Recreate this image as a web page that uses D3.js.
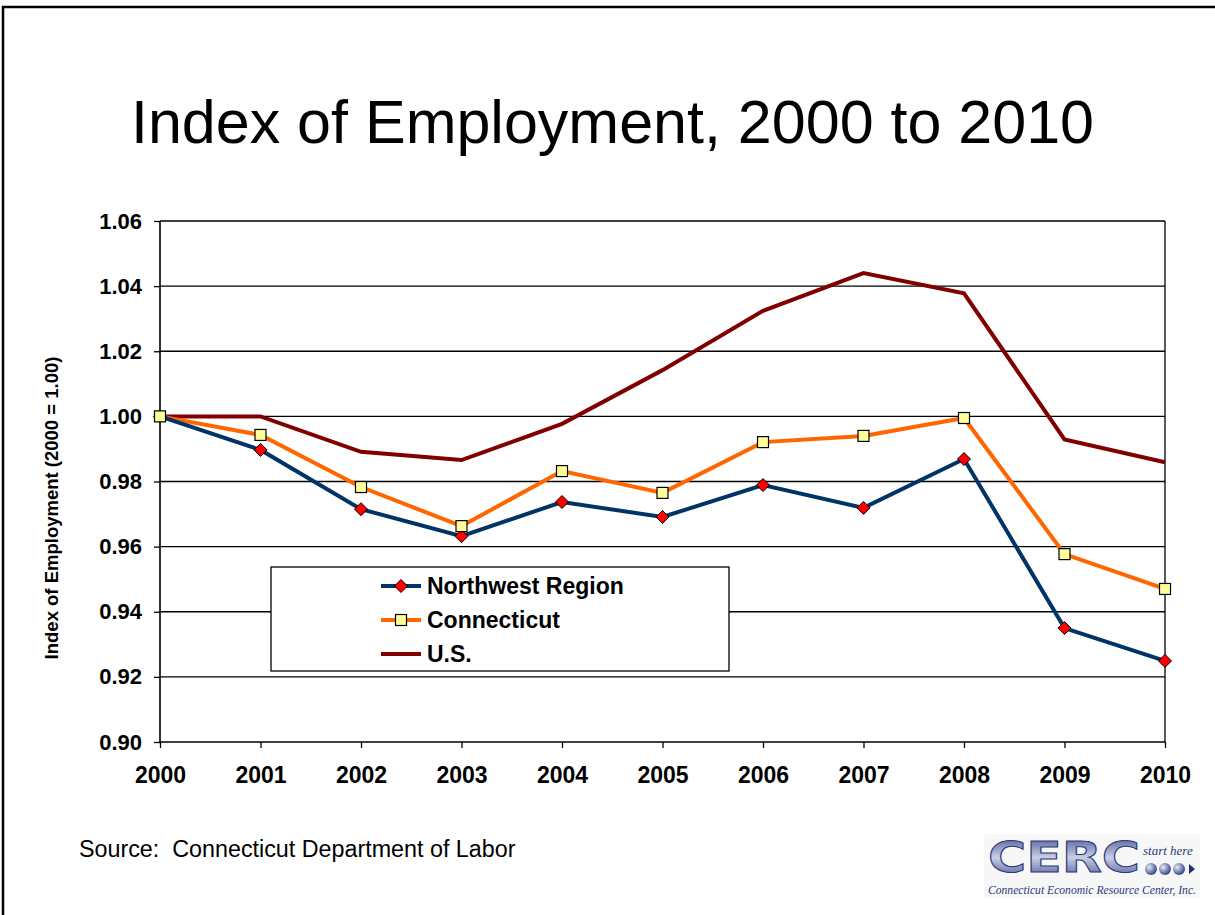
<!DOCTYPE html>
<html>
<head>
<meta charset="utf-8">
<script src="https://cdn.jsdelivr.net/npm/d3@7"></script>
<style>
  html, body { margin: 0; padding: 0; background: #fff; }
  svg { display: block; }
</style>
</head>
<body>
<svg id="chart" width="1215" height="915"></svg>
<script>
// ---- Data ----
const years = ["2000","2001","2002","2003","2004","2005","2006","2007","2008","2009","2010"];
const northwest = [1.000, 0.9897, 0.9715, 0.9632, 0.9737, 0.9691, 0.9789, 0.9719, 0.9869, 0.9350, 0.9249];
const connecticut = [1.000, 0.9943, 0.9783, 0.9663, 0.9832, 0.9765, 0.9921, 0.9940, 0.9995, 0.9577, 0.9470];
const us = [1.000, 1.000, 0.9891, 0.9866, 0.9977, 1.0142, 1.0324, 1.0440, 1.0378, 0.9929, 0.9859];
const yTicks = [0.90, 0.92, 0.94, 0.96, 0.98, 1.00, 1.02, 1.04, 1.06];
const seriesNames = ["Northwest Region", "Connecticut", "U.S."];

const svg = d3.select("#chart");
const FONT = "Liberation Sans, Arial, sans-serif";

// slide border
svg.append("path").attr("d", "M3,915 V7 H1215").attr("fill", "none")
  .attr("stroke", "#000").attr("stroke-width", 2.5);

// title
svg.append("text").attr("x", 612.5).attr("y", 143).attr("text-anchor", "middle")
  .attr("font-family", FONT).attr("font-size", 61)
  .attr("fill", "#000").text("Index of Employment, 2000 to 2010");

const L = 160, R = 1165, T = 221, B = 742;
const x = d3.scalePoint().domain(years).range([L, R]);
const y = d3.scaleLinear().domain([0.90, 1.06]).range([B, T]);

const g = svg.append("g");

// gridlines
g.selectAll("line.grid").data(yTicks.filter(d => d > 0.90)).join("line")
  .attr("class", "grid")
  .attr("x1", L).attr("x2", R).attr("y1", d => y(d)).attr("y2", d => y(d))
  .attr("stroke", "#000").attr("stroke-width", 1.3);
// right border of plot
g.append("line").attr("x1", R).attr("x2", R).attr("y1", T).attr("y2", B)
  .attr("stroke", "#000").attr("stroke-width", 1.3);

// axes
const yAxis = d3.axisLeft(y).tickValues(yTicks).tickFormat(d3.format(".2f")).tickSize(6).tickPadding(12);
const yg = g.append("g").attr("transform", `translate(${L},0)`).call(yAxis);
const xAxis = d3.axisBottom(x).tickSize(6).tickPadding(19);
const xg = g.append("g").attr("transform", `translate(0,${B})`).call(xAxis);
[yg, xg].forEach(a => {
  a.select(".domain").attr("stroke", "#000").attr("stroke-width", 1.6);
  a.selectAll(".tick line").attr("stroke", "#000").attr("stroke-width", 1.3);
  a.selectAll(".tick text").attr("fill", "#000")
    .attr("font-family", FONT).attr("font-weight", "bold");
});
yg.selectAll(".tick text").attr("font-size", 22);
xg.selectAll(".tick text").attr("font-size", 23);
xg.select(".domain").attr("d", `M${L},0H${R}`);
yg.select(".domain").attr("d", `M0,${B}V${T}`);

// y axis title
svg.append("text")
  .attr("transform", `translate(58,508) rotate(-90)`)
  .attr("text-anchor", "middle")
  .attr("font-family", FONT)
  .attr("font-weight", "bold").attr("font-size", 18.5)
  .text("Index of Employment (2000 = 1.00)");

const colors = ["#003366", "#FF6600", "#800000"];
const allSeries = [northwest, connecticut, us];
const line = d3.line().x((d, i) => x(years[i])).y(d => y(d));

[2, 1, 0].forEach(k => {
  g.append("path").datum(allSeries[k]).attr("d", line)
    .attr("fill", "none").attr("stroke", colors[k]).attr("stroke-width", 4)
    .attr("stroke-linejoin", "miter");
});

function diamond(sel, cx, cy, s) {
  sel.append("path")
    .attr("d", `M${cx},${cy - s}L${cx + s},${cy}L${cx},${cy + s}L${cx - s},${cy}Z`)
    .attr("fill", "#FF0000").attr("stroke", "#000").attr("stroke-width", 1);
}
function square(sel, cx, cy, s) {
  sel.append("rect").attr("x", cx - s).attr("y", cy - s).attr("width", 2 * s).attr("height", 2 * s)
    .attr("fill", "#FFFF99").attr("stroke", "#000").attr("stroke-width", 1.2);
}

northwest.forEach((v, i) => diamond(g, x(years[i]), y(v), 6.5));
connecticut.forEach((v, i) => square(g, x(years[i]), y(v), 5.5));

// legend
const lg = svg.append("g");
lg.append("rect").attr("x", 271).attr("y", 567).attr("width", 458).attr("height", 104)
  .attr("fill", "#fff").attr("stroke", "#000").attr("stroke-width", 1.3);
const rowsY = [586, 620, 654];
seriesNames.forEach((name, k) => {
  const ry = rowsY[k];
  lg.append("line").attr("x1", 381).attr("x2", 421).attr("y1", ry).attr("y2", ry)
    .attr("stroke", colors[k]).attr("stroke-width", 4);
  if (k === 0) diamond(lg, 401, ry, 6.5);
  if (k === 1) square(lg, 401, ry, 5.5);
  lg.append("text").attr("x", 427).attr("y", ry + 8)
    .attr("font-family", FONT)
    .attr("font-weight", "bold").attr("font-size", 23).text(name);
});

// source
svg.append("text").attr("x", 79).attr("y", 857)
  .attr("font-family", FONT).attr("font-size", 23.3)
  .style("white-space", "pre").attr("xml:space", "preserve")
  .text("Source:  Connecticut Department of Labor");

// CERC logo (approximation)
const logo = svg.append("g");
const defs = svg.append("defs");
const grad = defs.append("linearGradient").attr("id", "cercGrad").attr("x1", 0).attr("y1", 0).attr("x2", 0).attr("y2", 1);
grad.append("stop").attr("offset", "0%").attr("stop-color", "#3a4a8c");
grad.append("stop").attr("offset", "50%").attr("stop-color", "#c9cfe6");
grad.append("stop").attr("offset", "100%").attr("stop-color", "#3a4a8c");
const rg = defs.append("radialGradient").attr("id", "ballGrad").attr("cx", "35%").attr("cy", "35%").attr("r", "65%");
rg.append("stop").attr("offset", "0%").attr("stop-color", "#e8ebf5");
rg.append("stop").attr("offset", "100%").attr("stop-color", "#3a4a8c");
logo.append("rect").attr("x", 984).attr("y", 834).attr("width", 216).attr("height", 64).attr("fill", "#f7f7f7");
logo.append("text").attr("x", 988).attr("y", 872)
  .attr("font-family", "DejaVu Sans, sans-serif").attr("font-weight", "bold").attr("font-size", 42)
  .attr("textLength", 152).attr("lengthAdjust", "spacingAndGlyphs")
  .attr("fill", "url(#cercGrad)").attr("stroke", "#2c3a7a").attr("stroke-width", 1)
  .text("CERC");
logo.append("text").attr("x", 1143).attr("y", 855)
  .attr("font-family", "Liberation Serif, serif").attr("font-style", "italic").attr("font-size", 13)
  .attr("fill", "#2c3a7a").text("start here");
[1151, 1165, 1179].forEach(cx => {
  logo.append("circle").attr("cx", cx).attr("cy", 869).attr("r", 6).attr("fill", "url(#ballGrad)");
});
logo.append("path").attr("d", "M1189,864 L1195,869 L1189,874 Z").attr("fill", "#1f2f6f");
logo.append("text").attr("x", 988).attr("y", 894)
  .attr("font-family", "Liberation Serif, serif").attr("font-style", "italic").attr("font-size", 12)
  .attr("textLength", 208).attr("lengthAdjust", "spacingAndGlyphs")
  .attr("fill", "#2c3a7a").text("Connecticut Economic Resource Center, Inc.");
</script>
</body>
</html>
